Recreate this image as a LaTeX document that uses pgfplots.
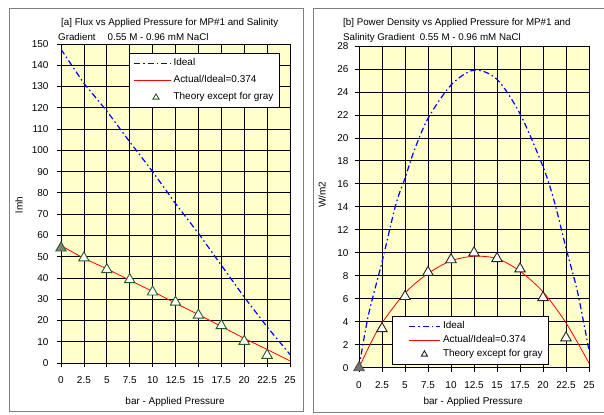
\documentclass[border=0pt]{standalone}
\usepackage{pgfplots}
\pgfplotsset{compat=1.18}
\usepackage{fontspec}
\setmainfont{Liberation Sans}
\definecolor{plotbg}{RGB}{255,255,204}
\definecolor{mkgreen}{RGB}{40,90,40}
\definecolor{framegray}{RGB}{128,128,128}
\definecolor{idealblue}{RGB}{0,0,255}
\definecolor{actred}{RGB}{255,0,0}
\pgfplotsset{
  panel/.style={
    scale only axis,
    axis background/.style={fill=plotbg},
    xmin=0, xmax=25,
    xtick={0,2.5,5,7.5,10,12.5,15,17.5,20,22.5,25},
    xticklabels={0,2.5,5,7.5,10,12.5,15,17.5,20,22.5,25},
    grid=major,
    major grid style={black, line width=0.8bp},
    axis line style={black, line width=0.8bp},
    tick style={black, line width=0.8bp},
    tick align=outside, tick pos=left, major tick length=4bp,
    ticklabel style={font=\fontsize{10}{12}\selectfont},
    /pgf/number format/assume math mode=true,
    label style={font=\fontsize{10}{12}\selectfont},
    xticklabel style={yshift=-6bp},
    clip marker paths=false,
  },
  idealstyle/.style={idealblue, line width=1.2bp, dash pattern=on 6bp off 3bp on 1.5bp off 3bp},
  actstyle/.style={actred, line width=0.8bp},
  legLineL/.style={legend image code/.code={\draw[##1] (0bp,0bp) -- (37bp,0bp);}},
  legMarkL/.style={legend image code/.code={\path[draw=none,fill=none] (0bp,0bp) -- (37bp,0bp); \draw[##1, mark size=3.5bp] plot[only marks] coordinates {(22bp,0bp)};}},
  legLineR/.style={legend image code/.code={\path[draw=none,fill=none] (0bp,0bp) -- (44bp,0bp); \draw[##1] (13bp,0bp) -- (44bp,0bp);}},
  legMarkR/.style={legend image code/.code={\path[draw=none,fill=none] (0bp,0bp) -- (44bp,0bp); \draw[##1, mark size=3.5bp] plot[only marks] coordinates {(28bp,0bp)};}},
}
\begin{document}
\begin{tikzpicture}[x=1bp,y=1bp]
\useasboundingbox[fill=white] (0,0) rectangle (604,414);
\draw[framegray, line width=1bp] (9,3) rectangle (303,405);
\draw[framegray, line width=1bp] (313,2) rectangle (612,405);

% ---------------- left panel ----------------
\begin{axis}[panel,
  at={(61bp,51bp)}, anchor=south west,
  width=229bp, height=319bp,
  ymin=0, ymax=150, ytick={0,10,...,150},
  yticklabel style={xshift=-5bp},
  xlabel={bar - Applied Pressure}, ylabel={lmh},
  xlabel style={at={(axis description cs:0.498,-0.122)}, anchor=center},
  ylabel style={at={(axis description cs:-0.183,0.495)}, anchor=center},
  legend style={at={(0.297,0.972)}, anchor=north west, draw=black, line width=0.8bp,
    fill=white, inner xsep=4bp, inner ysep=3.4bp, row sep=3.8bp,
    cells={anchor=west},
    nodes={inner sep=2bp, text height=7.2bp, text depth=2bp, font=\fontsize{10}{12}\selectfont}},
]
\addplot[idealstyle, legLineL]
  coordinates {(0,147.5)(2.5,131.5)(5,118.5)(7.5,104)(10,90)(12.5,75)(15,61)(17.5,46)(20,31)(22.5,17)(25,4)};
\addlegendentry{Ideal}
\addplot[actstyle, legLineL]
  coordinates {(0,55.2)(2.5,49.2)(5,44.3)(7.5,38.9)(10,33.7)(12.5,28.1)(15,22.8)(17.5,17.2)(20,11.6)(22.5,6.4)(25,1.0)};
\addlegendentry{Actual/Ideal=0.374}
\addplot[only marks, mark=triangle*, mark size=6bp,
  mark options={fill=white, draw=mkgreen, line width=0.9bp}, legMarkL]
  coordinates {(2.5,49.4)(5,43.9)(7.5,39.2)(10,33.4)(12.5,28.6)(15,22.5)(17.5,17.6)(20,10.2)(22.5,3.6)};
\addlegendentry{Theory except for gray}
\addplot[forget plot, only marks, mark=triangle*, mark size=6bp,
  mark options={fill=gray, draw=mkgreen, line width=0.9bp}]
  coordinates {(0,54.1)};
\end{axis}

% ---------------- right panel ----------------
\begin{axis}[panel,
  at={(359bp,46.3bp)}, anchor=south west,
  width=230bp, height=321.7bp,
  ymin=0, ymax=28, ytick={0,2,...,28},
  yticklabel style={xshift=-3bp},
  xlabel={bar - Applied Pressure}, ylabel={W/m2},
  xlabel style={at={(axis description cs:0.496,-0.107)}, anchor=center},
  ylabel style={at={(axis description cs:-0.161,0.537)}, anchor=center},
  legend style={at={(0.1435,0.161)}, anchor=north west, draw=black, line width=0.8bp,
    fill=white, inner xsep=4bp, inner ysep=3.4bp, row sep=0.8bp,
    cells={anchor=west},
    nodes={inner sep=2bp, text height=7.2bp, text depth=2bp, font=\fontsize{10}{12}\selectfont}},
]
\addplot[idealstyle, smooth, legLineR]
  coordinates {(0,0)(1,4.5)(2.5,9.2)(4,14.2)(5,16.5)(6,18.9)(7.5,21.7)(10,24.6)(12.5,25.9)(15,25.1)(17.5,22.1)(20,17.5)(21.25,14.4)(22.5,10.4)(23.75,6.6)(25,1.5)};
\addlegendentry{Ideal}
\addplot[actstyle, smooth, legLineR]
  coordinates {(0,0)(1.25,2.1)(2.5,3.9)(5,6.5)(7.5,8.2)(10,9.3)(12.5,9.7)(15,9.5)(17.5,8.4)(20,6.6)(22.5,3.9)(25,0.4)};
\addlegendentry{Actual/Ideal=0.374}
\addplot[only marks, mark=triangle*, mark size=6bp,
  mark options={fill=white, draw=black!85, line width=0.9bp}, legMarkR]
  coordinates {(2.5,3.4)(5,6.2)(7.5,8.3)(10,9.4)(12.5,10.0)(15,9.5)(17.5,8.6)(20,6.1)(22.5,2.6)};
\addlegendentry{Theory except for gray}
\addplot[forget plot, only marks, mark=triangle*, mark size=6bp,
  mark options={fill=black!55, draw=black!70, line width=0.9bp}]
  coordinates {(0,0)};
\end{axis}

% ---------------- titles ----------------
\node[anchor=base west, inner sep=0pt, font=\fontsize{9.8}{12}\selectfont] at (61,388.5)
  {[a] Flux vs Applied Pressure for MP\#1 and Salinity};
\node[anchor=base west, inner sep=0pt, font=\fontsize{9.8}{12}\selectfont] at (58,373.5)
  {Gradient\hspace*{12bp}0.55 M - 0.96 mM NaCl};
\node[anchor=base west, inner sep=0pt, font=\fontsize{9.8}{12}\selectfont] at (343,388.5)
  {[b] Power Density vs Applied Pressure for MP\#1 and};
\node[anchor=base west, inner sep=0pt, font=\fontsize{9.8}{12}\selectfont] at (343,373.5)
  {Salinity Gradient\hspace*{5bp}0.55 M - 0.96 mM NaCl};
\end{tikzpicture}
\end{document}
